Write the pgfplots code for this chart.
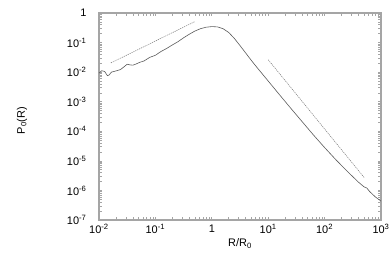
\documentclass[border=0pt]{standalone}
\usepackage{pgfplots}
\pgfplotsset{compat=1.18}
\usepackage{fontspec}
\setmainfont{Liberation Sans}
\definecolor{framegray}{RGB}{165,165,165}
\definecolor{curvegray}{RGB}{90,90,90}
\definecolor{guidegray}{RGB}{120,120,120}
\begin{document}
\begin{tikzpicture}
\begin{axis}[
    name=ax,
    xmode=log, ymode=log,
    scale only axis,
    width=282bp, height=207bp,
    xmin=1e-2, xmax=1e3,
    ymin=1e-7, ymax=1,
    axis line style={framegray, line width=1.1pt},
    tick style={framegray, line width=0.6pt},
    tick align=inside,
    major tick length=3.5bp,
    minor tick num=0,
    xtick={1e-2,1e-1,1,1e1,1e2,1e3},
    xticklabels={10\textsuperscript{-2},10\textsuperscript{-1},1,10\textsuperscript{1},10\textsuperscript{2},10\textsuperscript{3}},
    ytick={1e-7,1e-6,1e-5,1e-4,1e-3,1e-2,1e-1,1},
    yticklabels={10\textsuperscript{-7},10\textsuperscript{-6},10\textsuperscript{-5},10\textsuperscript{-4},10\textsuperscript{-3},10\textsuperscript{-2},10\textsuperscript{-1},1},
    ticklabel style={font=\fontsize{11}{13}\selectfont},
    yticklabel style={xshift=-9bp},
    xticklabel style={yshift=-1bp},
    xlabel={R/R\textsubscript{0}},
    ylabel={P\textsubscript{0}(R)},
    label style={font=\fontsize{11}{13}\selectfont},
    xlabel style={yshift=2bp},
    ylabel style={at={(axis description cs:-0.273,0.48)}, anchor=center},
]
% measured distribution
\addplot[curvegray, line width=0.6pt, mark=none] coordinates {
(0.01,9.3e-3) (0.0112,1.12e-2) (0.0126,1.05e-2) (0.0141,7.6e-3)
(0.0151,8.0e-3) (0.0166,1.00e-2) (0.0200,1.10e-2) (0.0240,1.22e-2)
(0.0282,1.55e-2) (0.0316,1.85e-2) (0.0355,1.76e-2) (0.0398,1.72e-2)
(0.0447,1.86e-2) (0.0525,2.14e-2) (0.0631,2.40e-2) (0.0794,3.16e-2)
(0.1,3.72e-2) (0.126,5.01e-2) (0.158,6.31e-2) (0.200,8.32e-2)
(0.251,0.107) (0.316,0.145) (0.398,0.191) (0.501,0.245)
(0.631,0.295) (0.794,0.331) (1,0.347) (1.26,0.339)
(1.58,0.295) (2.00,0.219) (2.51,0.138) (3.16,7.94e-2)
(3.98,4.47e-2) (5.01,2.51e-2) (6.31,1.45e-2) (10,5.01e-3)
(15.8,1.74e-3) (25.1,6.03e-4) (39.8,2.14e-4) (63.1,7.59e-5)
(100,2.82e-5) (158,1.10e-5) (251,4.47e-6) (398,1.91e-6)
(501,1.32e-6) (562,1.20e-6) (631,9.12e-7) (794,6.03e-7)
(891,5.13e-7) (1000,4.37e-7)
};
% power-law guides
\addplot[guidegray, line width=0.5pt, dash pattern=on 1.2pt off 0.9pt, mark=none] coordinates {(0.0162,0.0204) (0.501,0.513)};
\addplot[guidegray, line width=0.5pt, dash pattern=on 1.2pt off 0.9pt, mark=none] coordinates {(10,0.0263) (506,2.69e-6)};
\end{axis}
\pgfresetboundingbox
\path ([xshift=-99bp,yshift=-53bp]ax.south west) rectangle ([xshift=8bp,yshift=13bp]ax.north east);
\end{tikzpicture}
\end{document}
